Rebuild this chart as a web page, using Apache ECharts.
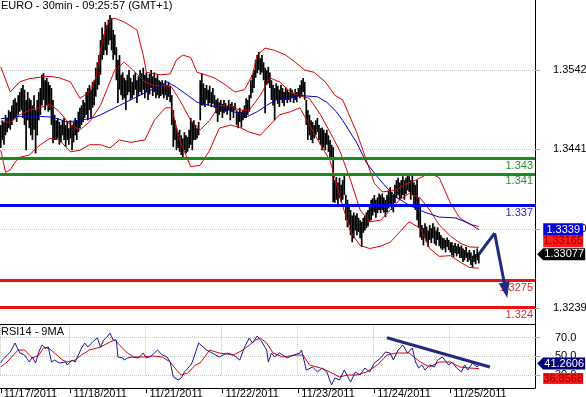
<!DOCTYPE html>
<html><head><meta charset="utf-8">
<script src="https://cdn.jsdelivr.net/npm/echarts@6/dist/echarts.min.js"></script>
<style>html,body{margin:0;padding:0;background:#fff}#c{width:586px;height:397px}</style>
</head><body><div id="c"></div>
<script>
const FONT = "'Liberation Sans', Arial, sans-serif";
const SLOTS = 338; // 30-min slots across the plot width (incl. empty projection area)
const dayLabels = ['11/17/2011','11/18/2011','11/21/2011','11/22/2011','11/23/2011','11/24/2011','11/25/2011'];
const dayStart = [0,44,92,140,188,236,284];

const highs = [
1.3472,1.3478,1.3476,1.3485,1.3481,1.3491,1.3489,1.3497,1.3504,1.3506,
1.3501,1.3510,1.3514,1.3519,1.3523,1.3517,1.3504,1.3514,1.3506,1.3504,
1.3497,1.3510,1.3491,1.3504,1.3514,1.3519,1.3536,1.3538,1.3529,1.3532,
1.3527,1.3523,1.3519,1.3504,1.3485,1.3478,1.3481,1.3476,1.3472,1.3478,
1.3481,1.3472,1.3476,1.3468,1.3478,1.3472,1.3476,1.3481,1.3478,1.3489,
1.3494,1.3497,1.3504,1.3501,1.3514,1.3519,1.3523,1.3517,1.3527,1.3529,
1.3545,1.3552,1.3561,1.3580,1.3596,1.3587,1.3603,1.3599,1.3606,1.3612,
1.3608,1.3593,1.3587,1.3571,1.3555,1.3561,1.3536,1.3539,1.3532,1.3529,
1.3536,1.3542,1.3532,1.3527,1.3536,1.3539,1.3529,1.3534,1.3542,1.3538,
1.3545,1.3536,1.3539,1.3532,1.3537,1.3542,1.3534,1.3539,1.3532,1.3536,
1.3529,1.3527,1.3529,1.3524,1.3529,1.3523,1.3527,1.3522,1.3510,1.3491,
1.3478,1.3468,1.3463,1.3466,1.3459,1.3455,1.3463,1.3459,1.3457,1.3466,
1.3481,1.3476,1.3478,1.3472,1.3468,1.3476,1.3529,1.3538,1.3525,1.3519,
1.3523,1.3517,1.3522,1.3514,1.3519,1.3510,1.3504,1.3506,1.3501,1.3504,
1.3499,1.3504,1.3500,1.3497,1.3504,1.3499,1.3501,1.3496,1.3500,1.3491,
1.3489,1.3494,1.3489,1.3491,1.3497,1.3506,1.3504,1.3510,1.3529,1.3536,
1.3542,1.3555,1.3561,1.3565,1.3557,1.3561,1.3552,1.3545,1.3542,1.3546,
1.3539,1.3529,1.3523,1.3519,1.3525,1.3522,1.3517,1.3523,1.3519,1.3514,
1.3520,1.3517,1.3514,1.3519,1.3517,1.3513,1.3518,1.3514,1.3519,1.3523,
1.3529,1.3532,1.3527,1.3504,1.3491,1.3485,1.3478,1.3476,1.3472,1.3478,
1.3481,1.3472,1.3468,1.3469,1.3466,1.3462,1.3466,1.3459,1.3453,1.3447,
1.3444,1.3402,1.3406,1.3399,1.3405,1.3396,1.3402,1.3411,1.3383,1.3377,
1.3370,1.3364,1.3357,1.3361,1.3357,1.3360,1.3354,1.3351,1.3349,1.3354,
1.3357,1.3361,1.3364,1.3370,1.3377,1.3379,1.3383,1.3377,1.3380,1.3385,
1.3383,1.3385,1.3380,1.3377,1.3383,1.3389,1.3393,1.3387,1.3383,1.3396,
1.3402,1.3405,1.3399,1.3402,1.3407,1.3402,1.3405,1.3411,1.3407,1.3402,
1.3408,1.3399,1.3396,1.3402,1.3380,1.3370,1.3345,1.3341,1.3347,1.3343,
1.3338,1.3345,1.3341,1.3347,1.3343,1.3338,1.3342,1.3336,1.3332,1.3329,
1.3328,1.3326,1.3329,1.3326,1.3323,1.3323,1.3319,1.3322,1.3318,1.3321,
1.3317,1.3319,1.3315,1.3313,1.3317,1.3310,1.3313,1.3310,1.3306,1.3313,
1.3308,1.3315,1.3309];
const lows = [
1.3443,1.3453,1.3447,1.3459,1.3463,1.3468,1.3466,1.3472,1.3478,1.3481,
1.3476,1.3485,1.3489,1.3491,1.3481,1.3472,1.3440,1.3478,1.3468,1.3459,
1.3453,1.3466,1.3436,1.3459,1.3478,1.3485,1.3497,1.3504,1.3491,1.3497,
1.3489,1.3491,1.3472,1.3449,1.3453,1.3453,1.3455,1.3447,1.3450,1.3459,
1.3453,1.3444,1.3453,1.3447,1.3455,1.3440,1.3450,1.3459,1.3453,1.3463,
1.3468,1.3472,1.3476,1.3481,1.3485,1.3478,1.3491,1.3481,1.3494,1.3497,
1.3508,1.3517,1.3523,1.3536,1.3555,1.3561,1.3567,1.3561,1.3574,1.3580,
1.3567,1.3555,1.3561,1.3529,1.3500,1.3517,1.3510,1.3504,1.3506,1.3491,
1.3510,1.3514,1.3504,1.3506,1.3510,1.3517,1.3500,1.3509,1.3514,1.3510,
1.3517,1.3506,1.3514,1.3504,1.3511,1.3519,1.3509,1.3514,1.3506,1.3510,
1.3506,1.3509,1.3511,1.3506,1.3510,1.3504,1.3508,1.3501,1.3472,1.3444,
1.3453,1.3440,1.3443,1.3438,1.3434,1.3431,1.3440,1.3436,1.3438,1.3443,
1.3447,1.3440,1.3453,1.3453,1.3455,1.3459,1.3478,1.3497,1.3497,1.3495,
1.3504,1.3497,1.3500,1.3495,1.3499,1.3494,1.3487,1.3476,1.3485,1.3489,
1.3481,1.3487,1.3489,1.3485,1.3491,1.3478,1.3489,1.3481,1.3491,1.3472,
1.3468,1.3476,1.3469,1.3478,1.3481,1.3481,1.3485,1.3489,1.3506,1.3513,
1.3519,1.3532,1.3538,1.3542,1.3536,1.3539,1.3529,1.3487,1.3523,1.3525,
1.3519,1.3504,1.3497,1.3478,1.3504,1.3499,1.3495,1.3504,1.3500,1.3496,
1.3504,1.3500,1.3504,1.3501,1.3506,1.3500,1.3504,1.3501,1.3508,1.3506,
1.3510,1.3514,1.3504,1.3472,1.3453,1.3459,1.3453,1.3449,1.3455,1.3459,
1.3463,1.3453,1.3447,1.3440,1.3443,1.3440,1.3447,1.3438,1.3431,1.3430,
1.3374,1.3373,1.3377,1.3370,1.3379,1.3374,1.3377,1.3383,1.3351,1.3342,
1.3345,1.3332,1.3323,1.3328,1.3338,1.3332,1.3336,1.3328,1.3317,1.3335,
1.3338,1.3341,1.3343,1.3349,1.3351,1.3357,1.3361,1.3354,1.3360,1.3364,
1.3360,1.3364,1.3361,1.3355,1.3361,1.3366,1.3370,1.3364,1.3361,1.3373,
1.3379,1.3383,1.3377,1.3379,1.3383,1.3377,1.3384,1.3389,1.3387,1.3377,
1.3383,1.3370,1.3364,1.3351,1.3341,1.3329,1.3326,1.3319,1.3328,1.3323,
1.3317,1.3326,1.3322,1.3328,1.3321,1.3319,1.3326,1.3318,1.3315,1.3313,
1.3315,1.3310,1.3317,1.3313,1.3310,1.3306,1.3304,1.3309,1.3305,1.3308,
1.3303,1.3303,1.3298,1.3300,1.3303,1.3298,1.3300,1.3294,1.3291,1.3298,
1.3295,1.3300,1.3296];

const maBlue = [[0,1.3480],[12,1.3483],[25,1.3483],[33,1.3482],[42,1.3476],[50,1.3478],[58,1.3481],[63,1.3485],[69,1.3491],[75,1.3497],[84,1.3506],[92,1.3514],[99,1.3520],[105,1.3527],[111,1.3520],[118,1.3510],[124,1.3501],[132,1.3497],[140,1.3494],[147,1.3489],[156,1.3483],[162,1.3489],[168,1.3497],[174,1.3504],[181,1.3506],[189,1.3510],[193,1.3509],[200,1.3508],[206,1.3501],[212,1.3489],[216,1.3478],[225,1.3449],[231,1.3424],[238,1.3406],[244,1.3392],[250,1.3380],[258,1.3370],[268,1.3361],[277,1.3355],[287,1.3354],[296,1.3347],[302,1.3339]];
const bbUpper = [[0,1.3546],[6,1.3514],[12,1.3527],[18,1.3531],[25,1.3533],[31,1.3534],[37,1.3532],[44,1.3527],[50,1.3506],[56,1.3514],[60,1.3532],[63,1.3567],[66,1.3593],[69,1.3606],[72,1.3608],[78,1.3603],[86,1.3593],[90,1.3561],[92,1.3539],[101,1.3536],[107,1.3537],[111,1.3555],[115,1.3561],[120,1.3558],[124,1.3539],[129,1.3536],[135,1.3532],[142,1.3523],[148,1.3514],[154,1.3517],[159,1.3536],[162,1.3561],[167,1.3570],[173,1.3567],[180,1.3561],[186,1.3552],[192,1.3542],[198,1.3539],[205,1.3527],[211,1.3510],[216,1.3504],[225,1.3462],[231,1.3427],[236,1.3398],[241,1.3387],[249,1.3389],[255,1.3396],[262,1.3402],[271,1.3411],[277,1.3405],[284,1.3373],[290,1.3354],[296,1.3346],[302,1.3343]];
const bbMid = [[0,1.3476],[6,1.3476],[12,1.3485],[18,1.3491],[25,1.3494],[31,1.3499],[37,1.3489],[44,1.3472],[50,1.3466],[56,1.3476],[63,1.3497],[69,1.3527],[72,1.3542],[78,1.3552],[85,1.3539],[91,1.3527],[97,1.3522],[104,1.3522],[108,1.3520],[113,1.3504],[120,1.3478],[126,1.3466],[132,1.3478],[138,1.3497],[145,1.3496],[151,1.3491],[157,1.3491],[164,1.3510],[170,1.3532],[176,1.3527],[183,1.3514],[189,1.3509],[195,1.3506],[202,1.3485],[208,1.3463],[214,1.3440],[221,1.3402],[227,1.3364],[233,1.3349],[240,1.3351],[246,1.3364],[252,1.3377],[258,1.3385],[265,1.3379],[271,1.3364],[277,1.3345],[284,1.3331],[290,1.3322],[296,1.3317],[302,1.33165]];
const bbLower = [[0,1.3440],[3,1.3412],[6,1.3415],[9,1.3425],[12,1.3431],[18,1.3434],[25,1.3447],[31,1.3455],[37,1.3453],[44,1.3438],[50,1.3440],[56,1.3447],[63,1.3447],[69,1.3443],[75,1.3453],[82,1.3450],[91,1.3453],[97,1.3478],[104,1.3494],[108,1.3494],[113,1.3453],[120,1.3419],[126,1.3421],[132,1.3440],[138,1.3468],[145,1.3472],[151,1.3469],[157,1.3463],[164,1.3459],[170,1.3472],[176,1.3485],[183,1.3489],[189,1.3494],[195,1.3472],[202,1.3447],[208,1.3427],[214,1.3383],[221,1.3336],[227,1.3319],[233,1.3315],[240,1.3318],[246,1.3323],[252,1.3336],[258,1.3349],[265,1.3341],[271,1.3315],[277,1.3305],[284,1.3306],[290,1.3298],[296,1.3291],[302,1.3290]];

const rsi = [[0,42.8],[1,46.0],[6,54.6],[9,64.2],[12,53.5],[15,51.4],[18,43.9],[20,49.3],[22,42.8],[24,54.6],[26,62.1],[28,58.9],[30,59.9],[32,43.9],[34,46.0],[37,42.8],[41,43.9],[42,40.7],[45,46.0],[47,43.9],[49,51.4],[51,58.9],[53,64.2],[55,59.9],[58,65.3],[61,69.6],[63,59.9],[65,67.4],[67,70.6],[69,74.9],[71,67.4],[73,67.4],[74,49.3],[77,48.2],[78,46.0],[80,48.2],[83,49.3],[87,48.2],[90,53.5],[92,48.2],[95,50.3],[99,56.7],[102,51.4],[105,49.3],[107,43.9],[109,27.9],[112,24.7],[114,26.8],[116,33.2],[120,40.7],[121,43.9],[125,64.2],[130,56.7],[138,49.3],[143,53.5],[147,51.4],[151,46.0],[154,59.9],[157,69.6],[159,64.2],[162,71.7],[165,65.3],[168,56.7],[169,43.9],[171,53.5],[173,49.3],[176,53.5],[181,48.2],[185,51.4],[189,53.5],[190,56.7],[192,42.8],[193,35.3],[197,38.6],[200,33.2],[203,37.5],[206,33.2],[209,19.3],[211,26.8],[214,24.7],[217,35.3],[221,22.5],[224,33.2],[227,30.0],[230,37.5],[233,33.2],[236,42.8],[240,48.2],[243,54.6],[246,53.5],[248,46.0],[251,56.7],[254,62.1],[257,53.5],[260,58.9],[262,43.9],[264,37.5],[266,40.7],[268,35.3],[271,40.7],[274,38.6],[276,46.0],[279,49.3],[283,40.7],[285,43.9],[288,37.5],[291,33.2],[293,40.7],[295,35.3],[298,42.8],[301,38.6],[302,41.2606]];
const rsiMA = [[0,38.6],[4,43.9],[8,51.4],[11,56.7],[15,56.7],[18,51.4],[20,48.2],[24,51.4],[27,58.9],[30,58.9],[34,53.5],[39,46.0],[42,43.9],[47,46.0],[51,51.4],[56,56.7],[63,59.9],[69,65.3],[72,67.4],[75,62.1],[80,53.5],[84,49.3],[90,49.3],[96,50.3],[102,49.3],[107,43.9],[111,35.3],[114,30.0],[118,32.1],[123,40.7],[126,43.0],[132,56.7],[138,53.5],[147,51.4],[153,56.7],[161,67.4],[164,69.6],[168,64.2],[172,53.5],[178,49.3],[187,51.4],[191,51.4],[195,40.7],[202,37.5],[208,33.2],[214,27.9],[219,30.0],[225,30.0],[231,33.2],[238,40.7],[244,51.4],[250,53.5],[258,53.5],[265,43.9],[271,38.6],[277,43.9],[284,43.9],[290,38.6],[296,37.5],[302,36.8568]];

const levels = [
  {value:1.343, text:'1.343', color:'#1b8c1b', textColor:'#2a8f2a'},
  {value:1.341, text:'1.341', color:'#1b8c1b', textColor:'#2a8f2a'},
  {value:1.337, text:'1.337', color:'#0000ee', textColor:'#2a2ab4'},
  {value:1.3275, text:'1.3275', color:'#ee1111', textColor:'#e02828'},
  {value:1.324, text:'1.324', color:'#ee1111', textColor:'#e02828'}
];
const lastClose = 1.33077, lastMA = 1.3339, lastMid = 1.33165;
const lastRSI = 41.2606, lastRSIMA = 36.8568;
const projection = [[302,1.33077],[312,1.33345],[319,1.3262]];
const rsiTrend = [[244,69.9],[309,38.5]];
const priceMin = 1.3239, priceStep = 0.0101, priceMax = 1.3643;
const rsiMin = 30, rsiStep = 20, rsiMax = 84.55;

const categories = Array.from({length: SLOTS}, (_, i) => String(i));
const isDayStart = (idx) => dayStart.indexOf(idx) >= 0;
const navy = '#1f2a80';

const chart = echarts.init(document.getElementById('c'), null, {renderer:'canvas'});
const lbl = {fontFamily: FONT, fontSize: 11};

chart.setOption({
  animation: false,
  backgroundColor: '#fff',
  textStyle: {fontFamily: FONT},
  title: [
    {text:'EURO - 30min - 09:25:57 (GMT+1)', left:1, top:0, padding:0, textStyle:{fontSize:11, fontWeight:'normal', color:'#000', fontFamily:FONT}},
    {text:'RSI14 - 9MA', left:1, top:326, padding:0, textStyle:{fontSize:11, fontWeight:'normal', color:'#000', fontFamily:FONT}}
  ],
  grid: [
    {left:0, right:51, top:-9.4, bottom:88.7, outerBoundsMode:'none', containLabel:false},
    {left:0, right:51, top:324, bottom:22, outerBoundsMode:'none', containLabel:false},
    {left:0, right:51, top:0, bottom:9, outerBoundsMode:'none', containLabel:false}
  ],
  xAxis: [
    {gridIndex:0, type:'category', data:categories, boundaryGap:true, show:false},
    {gridIndex:1, type:'category', data:categories, boundaryGap:true, position:'top',
      axisLine:{show:true, lineStyle:{color:'#000', width:1}}, axisTick:{show:false}, axisLabel:{show:false},
      splitLine:{show:true, interval:isDayStart, lineStyle:{color:'#c8c8c8', type:'dotted'}}},
    {gridIndex:2, type:'category', data:categories, boundaryGap:true, position:'bottom',
      axisLine:{show:true, lineStyle:{color:'#000', width:1}},
      axisTick:{show:true, alignWithLabel:true, interval:isDayStart, length:5, lineStyle:{color:'#000'}},
      axisLabel:{show:true, interval:isDayStart, formatter:(v) => dayLabels[dayStart.indexOf(Number(v))],
        align:'left', margin:0, padding:[0,0,0,3], color:'#000', lineHeight:11, ...lbl},
      splitLine:{show:false}}
  ],
  yAxis: [
    {gridIndex:0, type:'value', position:'right', min:priceMin, max:priceMax, interval:priceStep,
      axisLine:{show:false}, axisTick:{show:true, length:5, lineStyle:{color:'#aaa'}},
      axisLabel:{margin:18, color:'#000', formatter:(v)=>v.toFixed(4), showMaxLabel:false, ...lbl},
      splitLine:{show:true, lineStyle:{color:'#c8c8c8', type:'dotted'}}},
    {gridIndex:1, type:'value', position:'right', min:rsiMin, max:rsiMax, interval:rsiStep,
      axisLine:{show:false}, axisTick:{show:true, length:5, lineStyle:{color:'#aaa'}},
      axisLabel:{margin:20, color:'#000', formatter:(v)=>v.toFixed(1), showMaxLabel:false, ...lbl},
      splitLine:{show:true, lineStyle:{color:'#c8c8c8', type:'dotted'}}},
    {gridIndex:2, type:'value', position:'right', min:0, max:1,
      axisLine:{show:true, lineStyle:{color:'#000', width:1}}, axisTick:{show:false}, axisLabel:{show:false}, splitLine:{show:false}}
  ],
  series: [
    {
      name:'bars', type:'custom', xAxisIndex:0, yAxisIndex:0, z:2, silent:true,
      data: highs.map((h, i) => [i, lows[i], h]),
      encode: {x:0, y:[1,2]},
      renderItem: (params, api) => {
        const a = api.coord([api.value(0), api.value(1)]);
        const b = api.coord([api.value(0), api.value(2)]);
        return {type:'line', shape:{x1:a[0], y1:a[1], x2:b[0], y2:b[1]}, style:{stroke:'#000', lineWidth:1.7}};
      }
    },
    {name:'upper', type:'line', xAxisIndex:0, yAxisIndex:0, data:bbUpper, symbol:'none', z:3, silent:true,
      lineStyle:{color:'#dd0000', width:1}},
    {name:'lower', type:'line', xAxisIndex:0, yAxisIndex:0, data:bbLower, symbol:'none', z:3, silent:true,
      lineStyle:{color:'#dd0000', width:1}},
    {name:'mid', type:'line', xAxisIndex:0, yAxisIndex:0, data:bbMid, symbol:'none', z:3, silent:true,
      lineStyle:{color:'#dd0000', width:1},
      markLine:{silent:true, symbol:'none', animation:false, precision:6,
        data: levels.map(l => ({yAxis:l.value,
          lineStyle:{color:l.color, width:3, type:'solid'},
          label:{show:true, position:'insideEndBottom', formatter:l.text, color:l.textColor, distance:[2,2], ...lbl}}))}},
    {name:'ma', type:'line', xAxisIndex:0, yAxisIndex:0, data:maBlue, symbol:'none', z:4, silent:true,
      lineStyle:{color:'#0000cc', width:1},
      markLine:{silent:true, animation:false, z:6, precision:6, label:{show:false},
        lineStyle:{color:navy, width:3, type:'solid'},
        data:[
          [{coord:projection[0], symbol:'none'}, {coord:projection[1], symbol:'none'}],
          [{coord:projection[1], symbol:'none'}, {coord:projection[2], symbol:'triangle', symbolSize:[11,16]}]
        ]},
      markPoint:{silent:true, animation:false, z:7,
        data:[
          {coord:[SLOTS-1, lastMA], symbol:'rect', symbolSize:[40,13], symbolOffset:[29,0],
            itemStyle:{color:'#0000dd'}, label:{show:true, formatter:String(lastMA), color:'#fff', ...lbl}},
          {coord:[SLOTS-1, lastMid], symbol:'rect', symbolSize:[40,12], symbolOffset:[29,-6],
            itemStyle:{color:'#ff1a1a'}, label:{show:true, formatter:String(lastMid), color:'#7a0000', ...lbl}},
          {coord:[SLOTS-1, lastClose], symbol:'path://M0,6L6,0L48,0L48,12L6,12Z', symbolSize:[48,12], symbolOffset:[27,0],
            itemStyle:{color:'#000'}, label:{show:true, formatter:String(lastClose), color:'#fff', offset:[3,0], ...lbl}}
        ]}},
    {name:'rsi', type:'line', xAxisIndex:1, yAxisIndex:1, data:rsi, symbol:'none', clip:false, z:4, silent:true,
      lineStyle:{color:'#1a1aa0', width:1},
      markLine:{silent:true, animation:false, symbol:'none', precision:6, label:{show:false},
        lineStyle:{color:navy, width:3, type:'solid'},
        data:[[{coord:rsiTrend[0]}, {coord:rsiTrend[1]}]]},
      markPoint:{silent:true, animation:false, z:7,
        data:[
          {coord:[SLOTS-1, lastRSI], symbol:'path://M0,6L6,0L48,0L48,12L6,12Z', symbolSize:[48,12], symbolOffset:[27,-1],
            itemStyle:{color:'#00007f'}, label:{show:true, formatter:String(lastRSI), color:'#fff', offset:[3,0], ...lbl}},
          {coord:[SLOTS-1, lastRSIMA], symbol:'rect', symbolSize:[40,11], symbolOffset:[29,10],
            itemStyle:{color:'#ff1a1a'}, label:{show:true, formatter:String(lastRSIMA), color:'#7a0000', ...lbl}}
        ]}},
    {name:'rsiMA', type:'line', xAxisIndex:1, yAxisIndex:1, data:rsiMA, symbol:'none', clip:false, z:3, silent:true,
      lineStyle:{color:'#dd0000', width:1}}
  ]
});
</script></body></html>
